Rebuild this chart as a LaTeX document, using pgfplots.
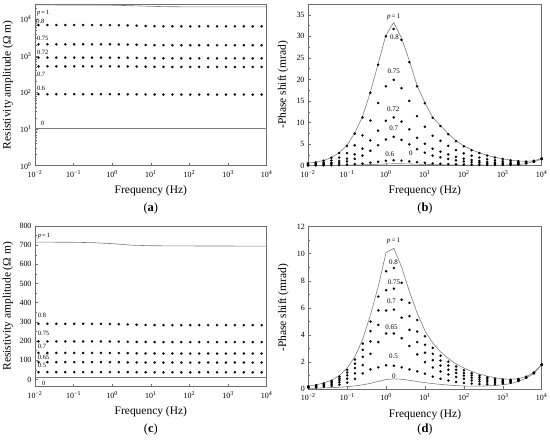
\documentclass[border=0pt]{standalone}
\usepackage{fontspec}
\setmainfont{Liberation Serif}
\usepackage{pgfplots}
\pgfplotsset{compat=1.18}
\usepackage{pgfplotstable}
\definecolor{framec}{RGB}{110,110,110}
\definecolor{linec}{RGB}{125,125,125}

\pgfplotstableread{
x a80 a75 a72 a70 a60
-1.910 7000 2080 900 520 90.0
-1.679 7000 2080 900 520 90.0
-1.448 7000 2080 900 520 90.0
-1.216 7000 2080 900 520 90.0
-0.985 7000 2080 900 520 90.0
-0.754 7000 2080 900 520 90.0
-0.523 6990 2080 900 520 90.0
-0.292 6980 2078 899 520 90.0
-0.060 6960 2075 898 519 90.0
0.171 6920 2068 896 518 89.8
0.402 6850 2050 892 516 89.6
0.633 6720 2022 884 512 89.2
0.864 6600 1995 874 507 88.7
1.096 6520 1975 867 503 88.3
1.327 6480 1966 863 501 88.1
1.558 6460 1962 861 500 88.0
1.789 6450 1960 860 500 88.0
2.020 6450 1960 860 500 88.0
2.252 6450 1960 860 500 88.0
2.483 6450 1960 860 500 88.0
2.714 6450 1960 860 500 88.0
2.945 6450 1960 860 500 88.0
3.176 6450 1960 860 500 88.0
3.408 6450 1960 860 500 88.0
3.639 6450 1960 860 500 88.0
3.870 6450 1960 860 500 88.0
}\tabA

\pgfplotstableread{
x c80 c75 c70 c65 c50
-1.910 290.0 198.0 138.0 90.0 38.0
-1.679 290.0 198.0 138.0 90.0 38.0
-1.448 290.0 198.0 138.0 90.0 38.0
-1.216 290.0 198.0 138.0 90.0 38.0
-0.985 290.0 198.0 138.0 90.0 38.0
-0.754 290.0 198.0 138.0 90.0 38.0
-0.523 289.8 198.0 138.0 90.0 38.0
-0.292 289.5 197.8 137.9 90.0 38.0
-0.060 289.0 197.6 137.8 89.9 38.0
0.171 288.0 197.0 137.4 89.6 37.9
0.402 286.5 196.2 136.8 89.2 37.7
0.633 285.0 195.5 136.0 88.8 37.5
0.864 284.0 195.0 135.6 88.4 37.3
1.096 283.5 194.8 135.3 88.2 37.2
1.327 283.0 194.5 135.0 88.0 37.0
1.558 283.0 194.5 135.0 88.0 37.0
1.789 283.0 194.5 135.0 88.0 37.0
2.020 283.0 194.5 135.0 88.0 37.0
2.252 283.0 194.5 135.0 88.0 37.0
2.483 283.0 194.5 135.0 88.0 37.0
2.714 283.0 194.5 135.0 88.0 37.0
2.945 283.0 194.5 135.0 88.0 37.0
3.176 283.0 194.5 135.0 88.0 37.0
3.408 283.0 194.5 135.0 88.0 37.0
3.639 283.0 194.5 135.0 88.0 37.0
3.870 283.0 194.5 135.0 88.0 37.0
}\tabC

\pgfplotstableread{
x p1 p0 b80 b75 b72 b70 b60
-2.0 0.60 0.03 0.55 0.38 0.22 0.14 0.04
-1.8 0.80 0.04 0.75 0.50 0.30 0.18 0.06
-1.6 1.20 0.05 1.15 0.75 0.44 0.27 0.08
-1.4 1.90 0.07 1.85 1.19 0.68 0.42 0.12
-1.2 3.00 0.09 2.95 1.87 1.07 0.64 0.16
-1.0 4.70 0.12 4.60 2.91 1.65 0.99 0.23
-0.8 7.60 0.16 7.45 4.70 2.65 1.57 0.35
-0.6 11.40 0.21 11.20 7.04 3.96 2.34 0.49
-0.4 17.00 0.27 16.90 10.48 5.87 3.45 0.69
-0.2 23.60 0.34 23.40 14.53 8.13 4.76 0.92
0.0 30.30 0.41 30.00 18.40 10.42 6.09 1.16
0.2 33.20 0.45 31.70 19.90 11.20 6.70 1.27
0.4 29.60 0.45 29.20 18.00 10.22 5.99 1.18
0.6 24.40 0.41 24.00 15.04 8.45 4.97 1.01
0.8 18.60 0.36 18.40 11.49 6.47 3.83 0.82
1.0 14.60 0.31 14.50 9.03 5.10 3.03 0.67
1.2 11.20 0.26 11.10 6.93 3.93 2.34 0.53
1.4 9.30 0.22 9.20 5.76 3.26 1.95 0.45
1.6 7.40 0.19 7.30 4.59 2.61 1.56 0.37
1.8 5.80 0.16 5.70 3.60 2.05 1.23 0.30
2.0 4.60 0.14 4.50 2.86 1.63 0.99 0.25
2.2 3.70 0.13 3.60 2.31 1.33 0.81 0.22
2.4 3.00 0.12 2.95 1.88 1.09 0.67 0.19
2.6 2.40 0.12 2.35 1.51 0.88 0.55 0.18
2.8 1.95 0.12 1.90 1.24 0.73 0.47 0.17
3.0 1.60 0.13 1.55 1.03 0.62 0.41 0.17
3.2 1.30 0.17 1.25 0.86 0.55 0.39 0.20
3.4 1.10 0.27 1.05 0.78 0.55 0.43 0.29
3.6 1.00 0.50 0.98 0.81 0.67 0.60 0.51
3.8 1.15 0.90 1.14 1.05 0.98 0.95 0.91
4.0 1.70 1.55 1.70 1.64 1.60 1.58 1.55
}\tabB

\pgfplotstableread{
x p1 p0 d80 d75 d70 d65 d50
-2.0 0.22 0.05 0.20 0.18 0.15 0.12 0.09
-1.8 0.30 0.06 0.28 0.24 0.21 0.16 0.11
-1.6 0.45 0.08 0.41 0.36 0.31 0.24 0.16
-1.4 0.65 0.10 0.60 0.52 0.44 0.34 0.22
-1.2 1.00 0.13 0.91 0.79 0.66 0.50 0.32
-1.0 1.55 0.17 1.41 1.22 1.01 0.76 0.47
-0.8 2.40 0.23 2.18 1.88 1.55 1.16 0.75
-0.6 3.70 0.31 3.36 2.89 2.38 1.77 1.15
-0.4 5.50 0.42 4.99 4.28 3.52 2.60 1.45
-0.2 7.60 0.56 6.83 5.81 4.74 3.47 1.60
0.0 10.10 0.70 8.70 7.30 5.80 4.10 1.75
0.2 10.40 0.75 8.94 7.42 5.87 4.10 1.72
0.4 9.00 0.72 7.85 6.60 5.27 3.76 1.60
0.6 7.20 0.64 6.37 5.39 4.37 3.18 1.45
0.8 5.60 0.55 5.10 4.25 3.47 2.56 1.30
1.0 4.30 0.47 3.90 3.27 2.68 1.99 1.13
1.2 3.40 0.40 3.04 2.60 2.13 1.59 0.91
1.4 2.75 0.34 2.46 2.10 1.73 1.30 0.75
1.6 2.25 0.29 2.02 1.73 1.42 1.07 0.63
1.8 1.85 0.25 1.66 1.42 1.18 0.89 0.52
2.0 1.55 0.22 1.39 1.19 0.99 0.75 0.45
2.2 1.30 0.21 1.17 1.01 0.84 0.64 0.40
2.4 1.10 0.21 0.99 0.86 0.72 0.56 0.36
2.6 0.95 0.23 0.86 0.76 0.65 0.52 0.35
2.8 0.83 0.26 0.76 0.68 0.59 0.49 0.36
3.0 0.75 0.31 0.70 0.63 0.56 0.49 0.39
3.2 0.72 0.40 0.68 0.63 0.59 0.53 0.46
3.4 0.76 0.55 0.74 0.70 0.67 0.63 0.59
3.6 0.92 0.80 0.91 0.89 0.87 0.85 0.82
3.8 1.22 1.15 1.21 1.20 1.19 1.18 1.16
4.0 1.80 1.80 1.80 1.80 1.80 1.80 1.80
}\tabD

\pgfplotsset{
  panel/.style={
    scale only axis,
    xmin=-2, xmax=4,
    xtick={-2,-1,0,1,2,3,4},
    xticklabels={10\textsuperscript{−2},10\textsuperscript{−1},10\textsuperscript{0},10\textsuperscript{1},10\textsuperscript{2},10\textsuperscript{3},10\textsuperscript{4}},
    axis line style={draw=framec, line width=0.6pt},
    every tick/.style={draw=framec, line width=0.5pt},
    tick align=inside, xtick pos=bottom, ytick pos=left,
    major tick length=3bp, minor tick length=1.8bp,
    ticklabel style={font=\fontsize{8}{9}\selectfont, text=black},
    xticklabel style={yshift=-1.2bp},
    label style={font=\fontsize{11.5}{13}\selectfont},
    /pgf/number format/assume math mode=true,
    xlabel={Frequency (Hz)},
    xlabel style={at={(axis description cs:0.5,-0.158)}, anchor=center},
    clip=false,
  },
  dots/.style={only marks, mark=*, mark size=1.2bp, mark options={fill=black, draw=black, line width=0.1pt}},
  curve/.style={draw=linec, line width=0.6pt, mark=none},
}
\tikzset{
  lab/.style={font=\fontsize{6.5}{7}\selectfont, inner sep=0pt},
  labb/.style={font=\fontsize{7}{8}\selectfont, inner sep=0pt},
  plab/.style={font=\fontsize{12.5}{14}\selectfont},
}

\begin{document}
\begin{tikzpicture}[x=1bp,y=1bp]
\useasboundingbox (0,0) rectangle (550bp,443bp);

% ---------- (a)
\begin{axis}[panel, at={(35bp,277.3bp)}, anchor=south west, width=231.7bp, height=161.7bp,
  ymode=log, ymin=1, ymax=26300,
  ytick={1,10,100,1000,10000},
  yticklabels={10\textsuperscript{0},10\textsuperscript{1},10\textsuperscript{2},10\textsuperscript{3},10\textsuperscript{4}},
  minor ytick={2,3,4,5,6,7,8,9,20,30,40,50,60,70,80,90,200,300,400,500,600,700,800,900,2000,3000,4000,5000,6000,7000,8000,9000,20000},
  ylabel={Resistivity amplitude (Ω m)},
  ylabel style={at={(axis description cs:-0.117,0.5)}, anchor=center}]
\addplot[curve] coordinates {(-2,24800) (-0.5,24700) (0,24400) (0.5,23600) (1,22700) (1.5,22100) (2,22000) (4,22000)};
\addplot[curve] coordinates {(-2,10.5) (4,10.5)};
\addplot[dots] table[x=x,y=a80] {\tabA};
\addplot[dots] table[x=x,y=a75] {\tabA};
\addplot[dots] table[x=x,y=a72] {\tabA};
\addplot[dots] table[x=x,y=a70] {\tabA};
\addplot[dots] table[x=x,y=a60] {\tabA};
\node[lab, anchor=west] at (axis cs:-1.95,14900) {\textit{p}\,=\,1};
\node[lab, anchor=west] at (axis cs:-1.97,9040) {0.8};
\node[lab, anchor=west] at (axis cs:-1.95,3100) {0.75};
\node[lab, anchor=west] at (axis cs:-1.95,1280) {0.72};
\node[lab, anchor=west] at (axis cs:-1.95,321) {0.7};
\node[lab, anchor=west] at (axis cs:-1.95,133) {0.6};
\node[lab, anchor=west] at (axis cs:-1.85,14.7) {0};
\end{axis}

% ---------- (b)
\begin{axis}[panel, at={(308bp,277.3bp)}, anchor=south west, width=233.7bp, height=161.7bp,
  ymin=0, ymax=37.5, ytick={0,5,...,35}, minor y tick num=1,
  ylabel={-Phase shift (mrad)},
  ylabel style={at={(axis description cs:-0.107,0.5)}, anchor=center}]
\addplot[curve] table[x=x,y=p1] {\tabB};
\addplot[curve] table[x=x,y=p0] {\tabB};
\addplot[dots] table[x=x,y=b80] {\tabB};
\addplot[dots] table[x=x,y=b75] {\tabB};
\addplot[dots] table[x=x,y=b72] {\tabB};
\addplot[dots] table[x=x,y=b70] {\tabB};
\addplot[dots] table[x=x,y=b60] {\tabB};
\node[labb] at (axis cs:0.2,34.6) {\textit{p}\,=\,1};
\node[labb] at (axis cs:0.22,29.9) {0.8};
\node[labb] at (axis cs:0.2,21.8) {0.75};
\node[labb] at (axis cs:0.19,13.2) {0.72};
\node[labb] at (axis cs:0.2,8.7) {0.7};
\node[labb] at (axis cs:0.1,2.7) {0.6};
\node[labb] at (axis cs:0.64,2.9) {0};
\end{axis}

% ---------- (c)
\begin{axis}[panel, at={(35bp,56.3bp)}, anchor=south west, width=231.7bp, height=160.7bp,
  ymin=-38, ymax=800, ytick={0,100,...,800}, minor y tick num=1,
  ylabel={Resistivity amplitude (Ω m)},
  ylabel style={at={(axis description cs:-0.117,0.5)}, anchor=center}]
\addplot[curve] coordinates {(-2,716) (-1,715) (-0.5,713) (0,708) (0.5,700) (1,697) (2,696) (4,695)};
\addplot[curve] coordinates {(-2,10) (4,10)};
\addplot[dots] table[x=x,y=c80] {\tabC};
\addplot[dots] table[x=x,y=c75] {\tabC};
\addplot[dots] table[x=x,y=c70] {\tabC};
\addplot[dots] table[x=x,y=c65] {\tabC};
\addplot[dots] table[x=x,y=c50] {\tabC};
\node[lab, anchor=west] at (axis cs:-1.93,748) {\textit{p}\,=\,1};
\node[lab, anchor=west] at (axis cs:-1.93,334) {0.8};
\node[lab, anchor=west] at (axis cs:-1.93,238) {0.75};
\node[lab, anchor=west] at (axis cs:-1.93,173) {0.7};
\node[lab, anchor=west] at (axis cs:-1.93,117) {0.65};
\node[lab, anchor=west] at (axis cs:-1.93,71) {0.5};
\node[lab, anchor=west] at (axis cs:-1.82,-20) {0};
\end{axis}

% ---------- (d)
\begin{axis}[panel, at={(308.3bp,54bp)}, anchor=south west, width=233.4bp, height=162.3bp,
  ymin=0, ymax=12, ytick={0,2,...,12}, minor y tick num=1,
  ylabel={-Phase shift (mrad)},
  ylabel style={at={(axis description cs:-0.107,0.5)}, anchor=center}]
\addplot[curve] table[x=x,y=p1] {\tabD};
\addplot[curve] table[x=x,y=p0] {\tabD};
\addplot[dots] table[x=x,y=d80] {\tabD};
\addplot[dots] table[x=x,y=d75] {\tabD};
\addplot[dots] table[x=x,y=d70] {\tabD};
\addplot[dots] table[x=x,y=d65] {\tabD};
\addplot[dots] table[x=x,y=d50] {\tabD};
\node[labb] at (axis cs:0.19,10.95) {\textit{p}\,=\,1};
\node[labb] at (axis cs:0.19,9.4) {0.8};
\node[labb] at (axis cs:0.2,7.9) {0.75};
\node[labb] at (axis cs:0.14,6.5) {0.7};
\node[labb] at (axis cs:0.14,4.6) {0.65};
\node[labb] at (axis cs:0.19,2.4) {0.5};
\node[labb] at (axis cs:0.2,0.95) {0};
\end{axis}

\node[plab] at (150.8bp,234bp) {(\textbf{a})};
\node[plab] at (425bp,234bp) {(\textbf{b})};
\node[plab] at (150.8bp,13bp) {(\textbf{c})};
\node[plab] at (425bp,13bp) {(\textbf{d})};
\end{tikzpicture}
\end{document}
